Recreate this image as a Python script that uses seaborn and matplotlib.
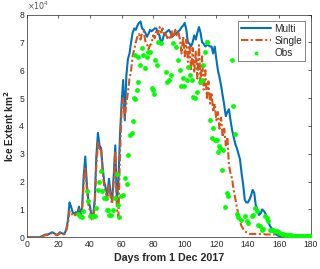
import numpy as np
import pandas as pd
import matplotlib
matplotlib.use("Agg")
import matplotlib.pyplot as plt
import seaborn as sns

# ice extent in units of 1e4 km^2, one value per day from 1 Dec 2017
days = list(range(0, 181))

multi = [
    0, 0, 0, 0, 0, 0, 0, 0, 0, 0.02,
    0.05, 0.08, 0.10, 0.10, 0.12, 0.15, 0.18, 0.15, 0.12, 0.08,
    0.12, 0.18, 0.15, 0.12, 0.15, 0.30, 0.60, 1.25, 1.10, 0.90,
    0.85, 0.90, 0.85, 1.10, 0.75, 1.10, 2.20, 2.90, 1.90, 1.30,
    1.10, 0.75, 0.80, 1.35, 2.90, 3.75, 3.30, 3.20, 2.50, 2.00,
    1.75, 1.50, 2.10, 1.60, 1.30, 2.20, 3.30, 1.30, 2.00, 3.70,
    4.80, 5.65, 4.20, 5.80, 6.40, 6.60, 7.00, 7.35, 7.50, 7.45,
    7.60, 7.70, 7.75, 7.50, 7.45, 7.35, 7.20, 7.30, 7.45, 7.40,
    7.45, 7.50, 7.50, 7.35, 7.25, 6.95, 7.10, 7.30, 7.35, 7.40,
    7.45, 7.35, 7.20, 7.25, 7.30, 7.35, 7.40, 7.45, 7.55, 7.60,
    7.70, 7.45, 7.00, 6.95, 6.85, 7.00, 7.25, 7.10, 7.35, 7.55,
    7.35, 7.00, 6.95, 6.85, 6.90, 6.90, 6.85, 6.85, 6.60, 6.85,
    6.40, 6.00, 5.75, 5.45, 5.10, 4.75, 4.35, 4.50, 4.60, 4.20,
    3.85, 3.60, 3.35, 3.20, 3.00, 2.80, 2.30, 1.90, 1.35, 1.25,
    1.25, 1.35, 1.50, 1.70, 1.60, 1.15, 1.00, 0.80, 0.85, 1.00,
    0.95, 0.87, 0.65, 0.55, 0.40, 0.33, 0.25, 0.16, 0.10, 0.06,
    0.04, 0.03, 0.03, 0.03, 0.03, 0.03, 0.03, 0.03, 0.03, 0.03,
    0.03, 0.03, 0.03, 0.03, 0.03, 0.03, 0.03, 0.03, 0.03, 0.03,
    0.03,
]

single = [
    0, 0, 0, 0, 0, 0, 0, 0, 0, 0.02,
    0.04, 0.06, 0.08, 0.08, 0.10, 0.13, 0.15, 0.12, 0.10, 0.07,
    0.10, 0.15, 0.12, 0.10, 0.12, 0.25, 0.50, 0.95, 0.90, 0.80,
    0.75, 0.85, 0.80, 1.00, 0.70, 1.00, 1.90, 2.50, 1.70, 1.15,
    0.95, 0.65, 0.60, 1.15, 2.60, 3.40, 3.10, 3.20, 2.30, 1.80,
    1.60, 1.35, 1.90, 1.45, 1.20, 2.00, 3.10, 1.00, 0.75, 3.00,
    4.60, 5.00, 4.30, 4.80, 5.20, 5.70, 6.00, 6.50, 6.75, 7.00,
    7.20, 7.30, 7.10, 7.35, 7.40, 7.05, 6.95, 6.75, 6.90, 6.95,
    7.25, 7.15, 7.45, 7.30, 7.55, 7.35, 7.50, 7.25, 7.30, 7.15,
    7.25, 7.10, 7.40, 7.20, 7.45, 7.25, 7.35, 7.10, 6.60, 7.20,
    6.50, 7.10, 6.30, 6.90, 6.00, 6.80, 5.90, 6.70, 5.70, 6.90,
    5.50, 6.50, 5.30, 6.00, 5.00, 5.60, 4.80, 5.20, 4.50, 4.80,
    4.20, 4.50, 3.90, 4.30, 3.60, 3.90, 3.30, 3.60, 2.60, 2.30,
    2.10, 1.70, 1.40, 1.10, 0.80, 0.55, 0.40, 0.30, 0.22, 0.18,
    0.15, 0.12, 0.12, 0.12, 0.12, 0.12, 0.12, 0.12, 0.12, 0.12,
    0.12, 0.10, 0.10, 0.10, 0.10, 0.10, 0.10, 0.10, 0.10, 0.10,
    0.10, 0.07, 0.07, 0.07, 0.07, 0.07, 0.07, 0.07, 0.07, 0.07,
    0.07, 0.07, 0.07, 0.07, 0.07, 0.07, 0.07, 0.07, 0.07, 0.07,
    0.07,
]

obs_day = [
    32.5, 33.6, 35.1, 35.7, 37.8, 38.9, 40.0, 41.4, 42.0, 43.1,
    44.1, 44.8, 46.0, 46.7, 47.7, 49.0, 50.0, 50.5, 51.5, 52.0,
    53.2, 54.7, 55.8, 56.8, 57.9, 58.5, 59.4, 61.0, 62.1, 63.2,
    64.2, 65.3, 66.3, 67.0, 67.8, 68.3, 68.4, 69.5, 70.5, 70.5,
    71.6, 72.7, 73.7, 74.8, 75.9, 76.9, 78.0, 79.0, 80.0, 80.5,
    81.1, 82.2, 83.2, 84.7, 87.9, 88.9, 90.2, 91.0, 92.7, 94.4,
    95.9, 97.0, 97.4, 98.6, 99.5, 101.2, 102.2, 103.3, 104.4, 105.4,
    106.5, 107.5, 109.6, 110.7, 111.7, 112.8, 113.9, 114.4, 116.0, 117.0,
    118.0, 119.0, 120.2, 121.3, 121.9, 122.3, 123.4, 124.4, 125.5, 126.5,
    127.6, 129.7, 130.7, 131.8, 132.9, 133.9, 135.9, 138.1, 139.2, 140.2,
    142.4, 143.4, 144.5, 145.5, 146.6, 147.7, 148.7, 149.7, 150.8, 151.9,
    152.9, 154.0, 155.0, 156.0, 157.0, 158.2, 159.2, 160.3, 161.3, 162.3,
    163.3, 164.3, 165.3, 166.3, 167.3, 168.3, 169.3, 170.3, 171.3, 172.3,
    173.3, 174.3, 175.3, 176.3, 177.3, 178.3, 179.3,
]

obs_val = [
    0.85, 0.75, 0.72, 0.93, 1.65, 1.29, 0.75, 0.75, 0.75, 0.75,
    1.05, 1.71, 2.00, 2.37, 1.65, 1.41, 1.41, 0.99, 0.99, 0.81,
    0.81, 0.99, 1.41, 2.27, 1.17, 0.72, 1.47, 1.50, 2.13, 1.91,
    2.96, 3.68, 3.74, 4.16, 5.00, 4.95, 6.55, 5.29, 5.59, 6.46,
    6.19, 6.79, 6.55, 6.07, 6.49, 6.67, 6.67, 5.35, 5.29, 5.15,
    6.37, 6.19, 7.02, 6.97, 5.95, 5.59, 5.65, 5.83, 6.97, 6.85,
    6.37, 6.01, 5.44, 5.71, 5.44, 5.65, 6.13, 5.83, 5.65, 5.05,
    5.00, 5.23, 5.59, 5.65, 6.19, 6.67, 7.02, 7.02, 4.22, 3.56,
    3.92, 3.50, 3.50, 3.08, 3.26, 3.20, 2.43, 3.14, 1.08, 1.59,
    1.47, 6.37, 4.70, 3.72, 0.85, 0.72, 0.63, 0.75, 0.57, 0.51,
    0.75, 0.81, 1.05, 0.93, 0.45, 0.39, 0.27, 0.30, 0.75, 0.69,
    0.57, 0.27, 0.27, 0.27, 0.24, 0.21, 0.18, 0.16, 0.12, 0.10,
    0.09, 0.08, 0.08, 0.07, 0.07, 0.06, 0.06, 0.06, 0.05, 0.05,
    0.05, 0.05, 0.05, 0.05, 0.05, 0.05, 0.05,
]

lines = pd.DataFrame({"day": days, "Multi": multi, "Single": single})
obs = pd.DataFrame({"day": obs_day, "Obs": obs_val})

sns.set_style("white")
plt.rcParams["font.family"] = ["Liberation Sans", "DejaVu Sans"]

fig = plt.figure(figsize=(3.2, 2.69), dpi=100)
ax = fig.add_axes([0.084, 0.118, 0.888, 0.828])

sns.lineplot(data=lines, x="day", y="Multi", ax=ax, color="#0072BD",
             linewidth=1.5, label="Multi")
sns.lineplot(data=lines, x="day", y="Single", ax=ax, color="#D95319",
             linewidth=1.5, linestyle=(0, (3.5, 1.2, 1, 1.2)), label="Single")
sns.scatterplot(data=obs, x="day", y="Obs", ax=ax, color="#00FF00",
                s=12, linewidth=0, label="Obs", zorder=3)

ax.set_xlim(0, 180)
ax.set_ylim(0, 8)
ax.set_xticks(range(0, 181, 20))
ax.set_yticks(range(0, 9))
ax.tick_params(direction="in", length=2.5, width=0.5, labelsize=6.2,
               colors="#262626", top=True, right=True, pad=2)
for s in ax.spines.values():
    s.set_color("#262626")
    s.set_linewidth(0.5)

ax.set_xlabel("Days from 1 Dec 2017", fontsize=7.7, fontweight="bold",
              labelpad=3)
ax.set_ylabel("Ice Extent km$^\\mathbf{2}$", fontsize=7.3, fontweight="bold",
              labelpad=1)
ax.yaxis.set_label_coords(-0.04, 0.5)
ax.text(0.0, 1.012, r"$\times10^4$", transform=ax.transAxes, fontsize=5.8,
        color="#555555", ha="left", va="bottom")

leg = ax.legend(loc="upper right", fontsize=7.2, frameon=True, fancybox=False,
                edgecolor="#262626", handlelength=3.0, handletextpad=0.3,
                borderpad=0.3, labelspacing=0.2, borderaxespad=0.6,
                markerscale=0.8)
leg.get_frame().set_linewidth(0.5)

fig.savefig("out.png", dpi=100)
